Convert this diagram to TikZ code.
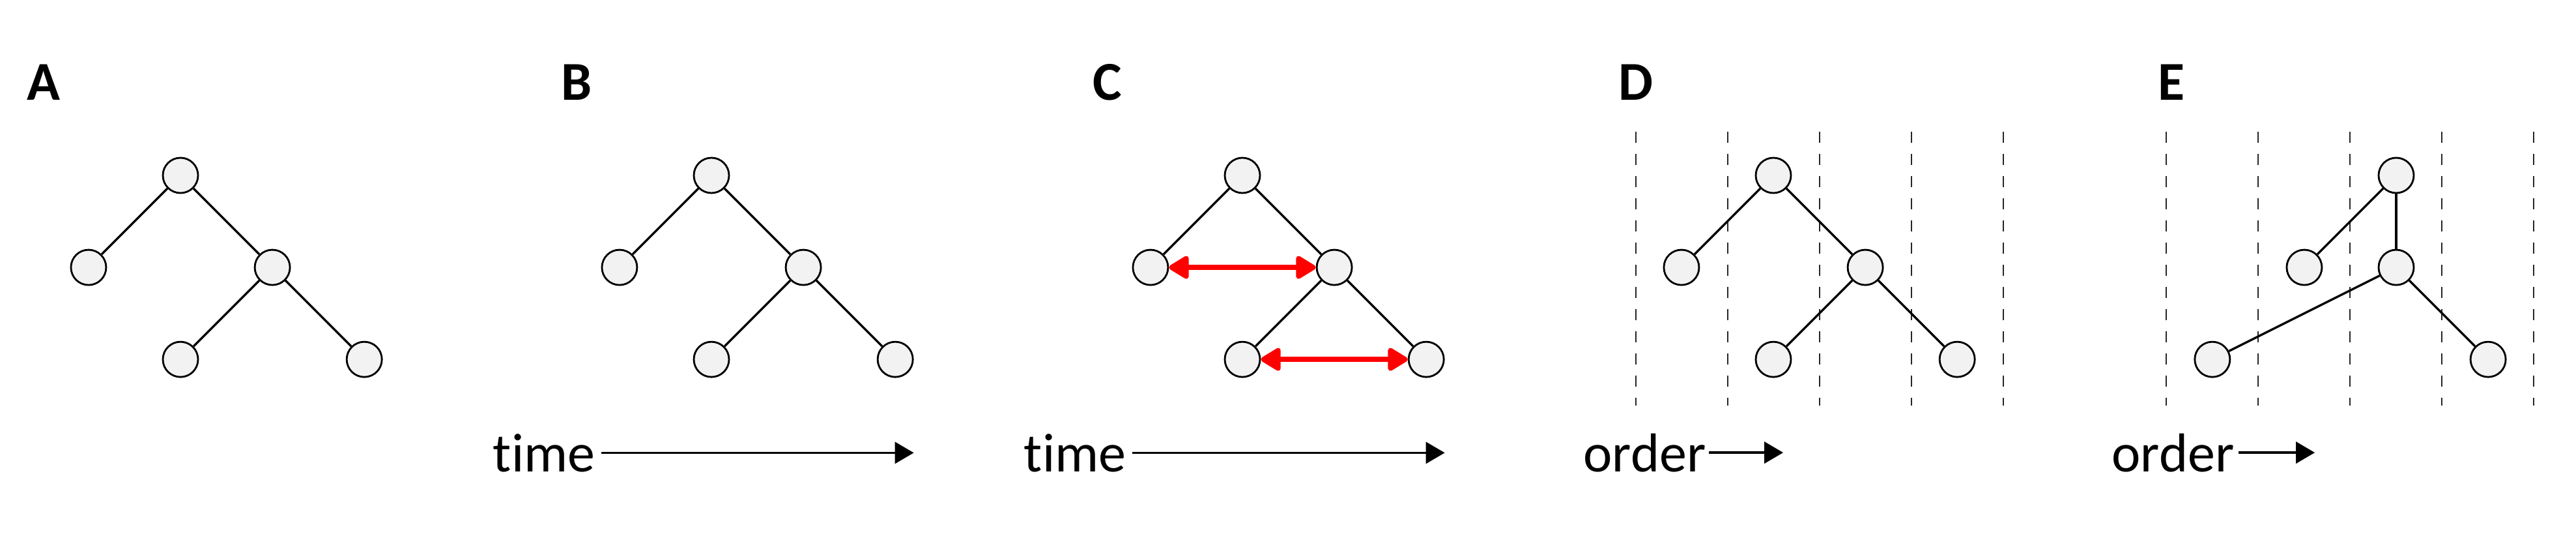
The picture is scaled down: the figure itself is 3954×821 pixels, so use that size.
\documentclass[tikz,border=0pt]{standalone}
\usepackage{fontspec}
\setmainfont{Carlito}[Ligatures=NoCommon]
\usepackage{tikz}
\usetikzlibrary{arrows.meta}
\usetikzlibrary{positioning}
\definecolor{nodegray}{HTML}{F2F2F2}
\tikzstyle{vertex} = [circle, draw=black, line width=0.8pt, fill=nodegray, minimum size=0.54cm, inner sep=0pt]
\tikzstyle{edge} = [line width=0.95pt]
\tikzstyle{swaparrow} = [line width=2.1pt, red, {Triangle[length=0.34cm,width=0.39cm,round]}-{Triangle[length=0.34cm,width=0.39cm,round]}]
\tikzstyle{axisarrow} = [line width=1pt, -{Triangle[length=0.29cm,width=0.33cm]}]
\tikzstyle{panel} = [font=\fontsize{23.9}{28}\selectfont\bfseries, inner sep=0pt]
\tikzstyle{axislabel} = [font=\fontsize{23.9}{28}\selectfont, inner sep=0pt, anchor=base east]
\tikzstyle{column} = [dash pattern=on 0.17cm off 0.17cm, line width=0.55pt, black!85]

\begin{document}
\begin{tikzpicture}[x=0.01cm, y=0.01cm, node distance=1.41cm and 1.41cm, on grid]
    \useasboundingbox (0,0) rectangle (3954,-821);
    % A
    \node (pA) [panel] at (67,-126) {A};
    \node (aR) [vertex] at (277,-269) {};
    \node (aL) [vertex, below left = of aR] {};
    \node (aM) [vertex, below right = of aR] {};
    \node (aML) [vertex, below left = of aM] {};
    \node (aMR) [vertex, below right = of aM] {};
    \draw [edge] (aR) -- (aL);
    \draw [edge] (aR) -- (aM);
    \draw [edge] (aM) -- (aML);
    \draw [edge] (aM) -- (aMR);
    % B
    \node (pB) [panel] at (885,-126) {B};
    \node (bR) [vertex] at (1092,-269) {};
    \node (bL) [vertex, below left = of bR] {};
    \node (bM) [vertex, below right = of bR] {};
    \node (bML) [vertex, below left = of bM] {};
    \node (bMR) [vertex, below right = of bM] {};
    \draw [edge] (bR) -- (bL);
    \draw [edge] (bR) -- (bM);
    \draw [edge] (bM) -- (bML);
    \draw [edge] (bM) -- (bMR);
    \node (tB) [axislabel] at (914,-723) {time};
    \draw [axisarrow] ([xshift=0.09cm]tB.east) -- (tB.east -| bMR.east);
    % C
    \node (pC) [panel] at (1700,-126) {C};
    \node (cR) [vertex] at (1907,-269) {};
    \node (cL) [vertex, below left = of cR] {};
    \node (cM) [vertex, below right = of cR] {};
    \node (cML) [vertex, below left = of cM] {};
    \node (cMR) [vertex, below right = of cM] {};
    \draw [edge] (cR) -- (cL);
    \draw [edge] (cR) -- (cM);
    \draw [edge] (cM) -- (cML);
    \draw [edge] (cM) -- (cMR);
    \draw [swaparrow] (cL) -- (cM);
    \draw [swaparrow] (cML) -- (cMR);
    \node (tC) [axislabel] at (1729,-723) {time};
    \draw [axisarrow] ([xshift=0.09cm]tC.east) -- (tC.east -| cMR.east);
    % D
    \node (pD) [panel] at (2511,-126) {D};
    \draw [column] (2511,-202) -- (2511,-622) (2652,-202) -- (2652,-622) (2793,-202) -- (2793,-622);
    \draw [column] (2934,-202) -- (2934,-622) (3075,-202) -- (3075,-622);
    \node (dR) [vertex] at (2722,-269) {};
    \node (dL) [vertex, below left = of dR] {};
    \node (dM) [vertex, below right = of dR] {};
    \node (dML) [vertex, below left = of dM] {};
    \node (dMR) [vertex, below right = of dM] {};
    \draw [edge] (dR) -- (dL);
    \draw [edge] (dR) -- (dM);
    \draw [edge] (dM) -- (dML);
    \draw [edge] (dM) -- (dMR);
    \node (oD) [axislabel] at (2619,-723) {order};
    \coordinate (oDend) at ([xshift=1.18cm]oD.east);
    \draw [axisarrow] ([xshift=0.04cm]oD.east) -- (oDend);
    % E
    \node (pE) [panel] at (3333,-126) {E};
    \draw [column] (3325,-202) -- (3325,-622) (3466,-202) -- (3466,-622) (3607,-202) -- (3607,-622);
    \draw [column] (3748,-202) -- (3748,-622) (3889,-202) -- (3889,-622);
    \node (eR) [vertex] at (3678,-269) {};
    \node (eL) [vertex, below left = of eR] {};
    \node (eM) [vertex, below = of eR] {};
    \node (eML) [vertex, below left = 1.41cm and 2.82cm of eM] {};
    \node (eMR) [vertex, below right = of eM] {};
    \draw [edge] (eR) -- (eL);
    \draw [edge] (eR) -- (eM);
    \draw [edge] (eM) -- (eML);
    \draw [edge] (eM) -- (eMR);
    \node (oE) [axislabel] at (3430,-723) {order};
    \coordinate (oEend) at ([xshift=1.23cm]oE.east);
    \draw [axisarrow] ([xshift=0.06cm]oE.east) -- (oEend);
\end{tikzpicture}
\end{document}
